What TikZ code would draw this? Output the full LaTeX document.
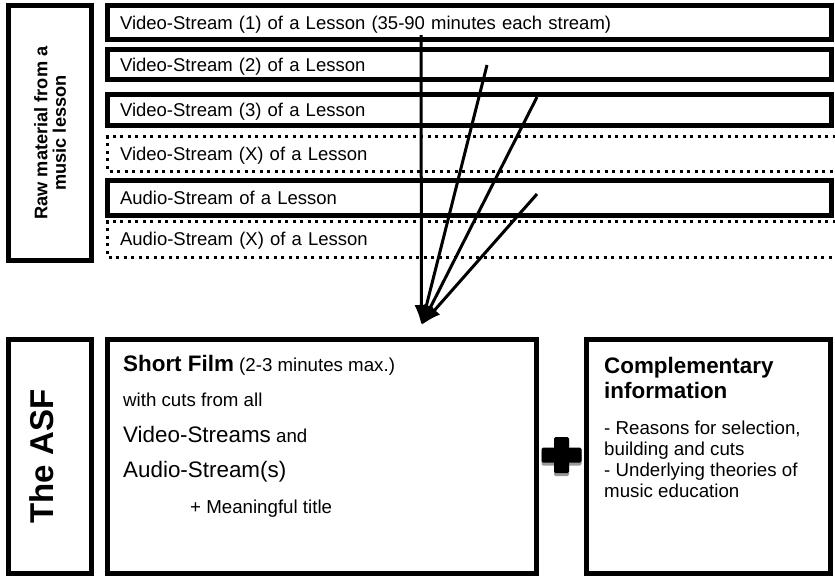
\documentclass[tikz,border=0pt]{standalone}
\usepackage{fontspec}
\setmainfont{Liberation Sans}
\usetikzlibrary{arrows.meta}

\tikzset{
  stream/.style={minimum width=724pt, text width=699pt, inner xsep=12.5pt, inner ysep=0pt,
    outer sep=0pt, text height=13.4pt, text depth=0pt, align=left,
    font=\fontsize{18.5}{22}\selectfont},
  solidbox/.style={draw, line width=5pt},
  dotbox/.style={line width=3pt, dash pattern=on 3pt off 4.5pt},
  panel/.style={draw, line width=5pt, inner sep=0pt, outer sep=0pt},
  feed/.style={line width=3pt, -{Latex[length=20pt,width=14pt]}},
  plaintext/.style={anchor=base west, align=left, inner sep=0pt},
}

\begin{document}
\begin{tikzpicture}[x=1pt,y=-1pt]
  \useasboundingbox (0,0) rectangle (835,576);

  % raw material
  \node[panel, rotate=90, minimum width=255pt, minimum height=83pt, align=center,
    font=\bfseries\fontsize{18.2}{18.5}\selectfont] (raw) at (50,133) {Raw material from a\\music lesson};

  \node[stream, solidbox, minimum height=34pt] (v1) at (469.5,22.5) {Video-Stream (1) of a Lesson (35-90 minutes each stream)};
  \node[stream, solidbox, minimum height=30pt] (v2) at (469.5,64.5) {Video-Stream (2) of a Lesson};
  \node[stream, solidbox, minimum height=31pt] (v3) at (469.5,110) {Video-Stream (3) of a Lesson};
  \node[stream, minimum height=35pt] (vx) at (469.5,153.5) {Video-Stream (X) of a Lesson};
  \node[stream, solidbox, minimum height=35pt] (au) at (469.5,198) {Audio-Stream of a Lesson};
  \node[stream, minimum height=36pt] (ax) at (469.5,239) {Audio-Stream (X) of a Lesson};
  \foreach \n in {vx,ax}
    \draw[dotbox] ([xshift=4pt]\n.north east) -- (\n.north west) -- (\n.south west) -- ([xshift=4pt]\n.south east);

  % arrows into the film
  \coordinate (tip) at (421.5,325);
  \coordinate (s1) at (421,35);
  \coordinate (s2) at (487,65);
  \coordinate (s3) at (537,97);
  \coordinate (s4) at (537,194);
  \foreach \s in {s1,s2,s3,s4}
    \draw[feed] (\s) -- (tip);

  % the ASF
  \node[panel, rotate=90, minimum width=234pt, minimum height=83pt, text height=24pt, text depth=18pt,
    font=\bfseries\fontsize{33}{36}\selectfont] (asf) at (50,456.5) {The ASF};
  \node[panel, minimum width=429pt, minimum height=234pt] (film) at (322,456.5) {};
  \node[panel, minimum width=244pt, minimum height=234pt] (info) at (708.5,456.5) {};

  % base of a multi-line node is its last line
  \node[plaintext, font=\fontsize{18.7}{35.5}\selectfont] (filmtxt) at (123,513)
    {{\bfseries\fontsize{22.4}{35.5}\selectfont Short Film} (2-3 minutes max.)\\
     with cuts from all\\
     {\fontsize{22.4}{35.5}\selectfont Video-Streams} and\\
     {\fontsize{22.4}{35.5}\selectfont Audio-Stream(s)}\\
     \hspace*{67pt}+ Meaningful title};

  \node[plaintext, font=\bfseries\fontsize{22.4}{25}\selectfont] (infohead) at (604,398) {Complementary\\information};
  \node[plaintext, font=\fontsize{18.7}{20.7}\selectfont] (infolist) at (604,497)
    {- Reasons for selection,\\building and cuts\\- Underlying theories of\\music education};

  % plus
  \coordinate (plus) at (561.5,455);
  \foreach \col/\dy in {black!40/3,black/0} {
    \fill[\col, rounded corners=1.5pt] ([shift={(-20,-7.5+\dy)}]plus) rectangle ([shift={(20,7.5+\dy)}]plus);
    \fill[\col, rounded corners=1.5pt] ([shift={(-7.5,-18+\dy)}]plus) rectangle ([shift={(7.5,18+\dy)}]plus);
  }
\end{tikzpicture}
\end{document}
